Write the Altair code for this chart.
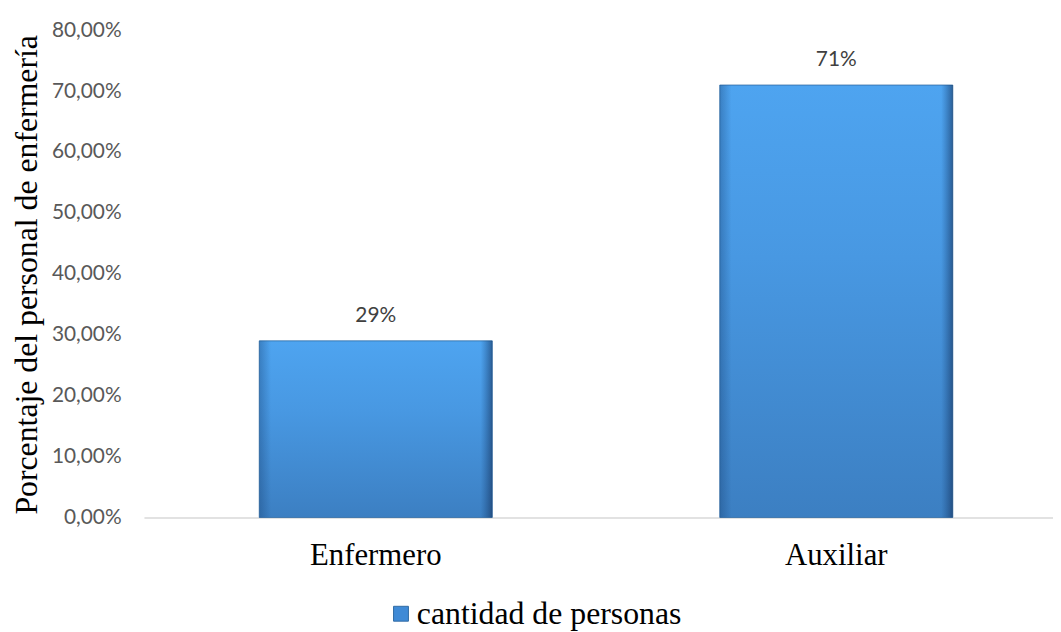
import altair as alt
import pandas as pd

categorias = ["Enfermero", "Auxiliar"]
porcentajes = [0.29, 0.71]
serie = "cantidad de personas"

df = pd.DataFrame({"cat": categorias, "val": porcentajes, "serie": [serie] * 2})

sans = "Lato"
serif = "Liberation Serif"

x = alt.X("cat:N", sort=categorias, title=None,
          scale=alt.Scale(paddingInner=0.494, paddingOuter=0.234, align=0.535),
          axis=alt.Axis(labelAngle=0, labelFont=serif, labelFontSize=31, labelColor="#000000",
                        labelPadding=23, ticks=False, domainColor="#d9d9d9", domainWidth=1.5))
y = alt.Y("val:Q", title="Porcentaje del personal de enfermería",
          scale=alt.Scale(domain=[0, 0.8], nice=False),
          axis=alt.Axis(values=[0, 0.1, 0.2, 0.3, 0.4, 0.5, 0.6, 0.7, 0.8],
                        labelExpr="replace(format(datum.value, '.2%'), '.', ',')",
                        labelFont=sans, labelFontSize=21, labelColor="#595959", labelPadding=23,
                        domain=False, ticks=False, grid=False,
                        titleFont=serif, titleFontSize=32, titleFontWeight="normal", titleColor="#000000",
                        titleX=-118, titleY=246, titleAngle=-90, titleAlign="center", titleBaseline="middle"))

grad = alt.Gradient(gradient="linear", x1=0, y1=0, x2=0, y2=1,
                    stops=[alt.GradientStop(color="#4ea4f0", offset=0),
                           alt.GradientStop(color="#4898e2", offset=0.4),
                           alt.GradientStop(color="#3c7fc2", offset=1)])

edge = alt.Gradient(gradient="linear", x1=0, y1=0, x2=1, y2=0,
                    stops=[alt.GradientStop(color="rgba(20,60,110,0.35)", offset=0),
                           alt.GradientStop(color="rgba(20,60,110,0)", offset=0.05),
                           alt.GradientStop(color="rgba(20,60,110,0)", offset=0.95),
                           alt.GradientStop(color="rgba(15,40,80,0.55)", offset=1)])

bars = alt.Chart(df).mark_bar(color=grad, stroke="#2f6aa3", strokeWidth=0.8).encode(x=x, y=y)
edges = alt.Chart(df).mark_bar(color=edge).encode(x=alt.X("cat:N", sort=categorias), y="val:Q")

labels = alt.Chart(df).mark_text(font=sans, fontSize=21, color="#404040", dy=-25).encode(
    x=alt.X("cat:N", sort=categorias), y="val:Q", text=alt.Text("val:Q", format=".0%"))

leg = alt.Chart(df).mark_square(opacity=0).encode(
    x=alt.X("cat:N", sort=categorias), y="val:Q",
    color=alt.Color("serie:N", scale=alt.Scale(range=["#3f8ad6"]),
                    legend=alt.Legend(title=None, orient="none", legendX=243, legendY=572,
                                      symbolType="square", symbolSize=225, symbolOpacity=1,
                                      symbolStrokeColor="#2f6aa3", symbolStrokeWidth=1,
                                      labelFont=serif, labelFontSize=32, labelColor="#000000",
                                      labelOffset=0, labelLimit=0)))

chart = alt.layer(bars, edges, labels, leg).properties(
    width=916, height=491,
    autosize=alt.AutoSizeParams(type="none"),
    padding={"left": 137, "top": 20, "right": 0, "bottom": 112},
    background="white",
).configure_view(stroke=None)

chart.save("out.html", embed_options={"renderer": "svg", "actions": False})
